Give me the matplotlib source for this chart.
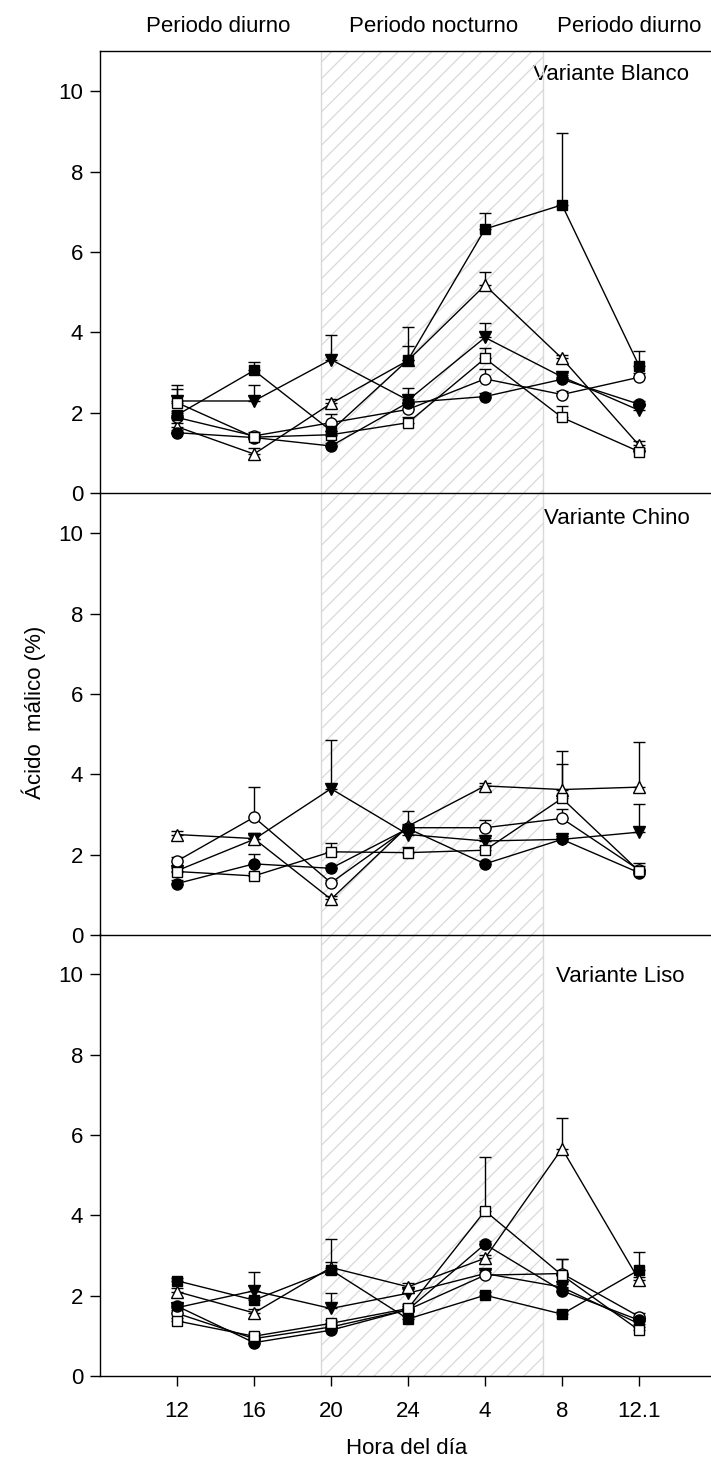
"""Malic acid over a day/night cycle, three variants stacked (SigmaPlot-style look)."""
import matplotlib
matplotlib.use("Agg")
import matplotlib.pyplot as plt
import numpy as np

plt.rcParams["font.family"] = ["Liberation Sans", "DejaVu Sans"]
plt.rcParams["hatch.linewidth"] = 0.9

HOURS = ["12", "16", "20", "24", "4", "8", "12.1"]
NIGHT = (2.875, 5.75)  # 19:30 -> 07:00, in tick units (4 h per tick)
PERIODS = ["Periodo diurno", "Periodo nocturno", "Periodo diurno"]

# --------------------------------------------------------------------------- #
# data: mean and upper error per series                                       #
# --------------------------------------------------------------------------- #
# Variante Blanco
blanco_ftri = [2.29, 2.29, 3.32, 2.31, 3.87, 2.89, 2.06]
blanco_ftri_err = [0.31, 0.41, 0.62, 0.31, 0.37, 0.10, 0.10]
blanco_otri = [1.65, 0.97, 2.23, 3.30, 5.17, 3.35, 1.19]
blanco_otri_err = [0.10, 0.15, 0.10, 0.36, 0.33, 0.08, 0.10]
blanco_ocirc = [1.88, 1.42, 1.75, 2.08, 2.84, 2.45, 2.88]
blanco_ocirc_err = [0.10, 0.10, 0.22, 0.15, 0.24, 0.10, 0.10]
blanco_fcirc = [1.50, 1.38, 1.17, 2.25, 2.40, 2.83, 2.21]
blanco_fcirc_err = [0.08, 0.08, 0.08, 0.10, 0.08, 0.10, 0.08]
blanco_osq = [2.25, 1.39, 1.45, 1.75, 3.35, 1.88, 1.03]
blanco_osq_err = [0.43, 0.08, 0.10, 0.14, 0.25, 0.29, 0.08]
blanco_fsq = [1.94, 3.05, 1.55, 3.31, 6.57, 7.17, 3.17]
blanco_fsq_err = [0.10, 0.21, 0.15, 0.82, 0.41, 1.78, 0.37]

# Variante Chino (no filled-square series)
chino_ftri = [1.60, 2.38, 3.64, 2.50, 2.34, 2.38, 2.56]
chino_ftri_err = [0.10, 0.16, 1.21, 0.10, 0.08, 0.08, 0.69]
chino_otri = [2.50, 2.40, 0.89, 2.71, 3.71, 3.62, 3.68]
chino_otri_err = [0.08, 0.08, 0.08, 0.37, 0.08, 0.96, 1.12]
chino_ocirc = [1.84, 2.93, 1.30, 2.67, 2.67, 2.90, 1.62]
chino_ocirc_err = [0.10, 0.75, 0.08, 0.10, 0.18, 0.23, 0.10]
chino_fcirc = [1.28, 1.77, 1.66, 2.65, 1.77, 2.38, 1.55]
chino_fcirc_err = [0.08, 0.25, 0.08, 0.10, 0.08, 0.08, 0.08]
chino_osq = [1.58, 1.47, 2.07, 2.05, 2.11, 3.40, 1.59]
chino_osq_err = [0.08, 0.08, 0.23, 0.14, 0.08, 0.86, 0.20]

# Variante Liso
liso_ftri = [1.70, 2.12, 1.68, 2.06, 2.55, 2.21, 1.30]
liso_ftri_err = [0.08, 0.47, 0.39, 0.10, 0.08, 0.08, 0.08]
liso_otri = [2.10, 1.57, 2.70, 2.22, 2.93, 5.66, 2.39]
liso_otri_err = [0.08, 0.10, 0.14, 0.09, 0.08, 0.77, 0.08]
liso_ocirc = [1.56, 0.93, 1.22, 1.65, 2.51, 2.55, 1.48]
liso_ocirc_err = [0.08, 0.08, 0.08, 0.08, 0.08, 0.35, 0.10]
liso_fcirc = [1.74, 0.83, 1.14, 1.65, 3.28, 2.12, 1.39]
liso_fcirc_err = [0.08, 0.08, 0.08, 0.08, 0.08, 0.08, 0.08]
liso_osq = [1.37, 0.99, 1.31, 1.68, 4.11, 2.51, 1.14]
liso_osq_err = [0.08, 0.08, 0.08, 0.10, 1.35, 0.39, 0.08]
liso_fsq = [2.37, 1.89, 2.64, 1.42, 2.01, 1.54, 2.64]
liso_fsq_err = [0.08, 0.08, 0.77, 0.08, 0.08, 0.08, 0.45]

# marker, face colour, marker size
_STYLE = {
    "ftri": ("v", "black", 9),
    "otri": ("^", "white", 9),
    "ocirc": ("o", "white", 8),
    "fcirc": ("o", "black", 8),
    "osq": ("s", "white", 7.8),
    "fsq": ("s", "black", 7.8),
}

PANELS = [
    ("Variante Blanco", (611, 75), {
        "ftri": (blanco_ftri, blanco_ftri_err), "otri": (blanco_otri, blanco_otri_err),
        "ocirc": (blanco_ocirc, blanco_ocirc_err), "fcirc": (blanco_fcirc, blanco_fcirc_err),
        "osq": (blanco_osq, blanco_osq_err), "fsq": (blanco_fsq, blanco_fsq_err)}),
    ("Variante Chino", (617, 518), {
        "ftri": (chino_ftri, chino_ftri_err), "otri": (chino_otri, chino_otri_err),
        "ocirc": (chino_ocirc, chino_ocirc_err), "fcirc": (chino_fcirc, chino_fcirc_err),
        "osq": (chino_osq, chino_osq_err)}),
    ("Variante Liso", (620, 977), {
        "ftri": (liso_ftri, liso_ftri_err), "otri": (liso_otri, liso_otri_err),
        "ocirc": (liso_ocirc, liso_ocirc_err), "fcirc": (liso_fcirc, liso_fcirc_err),
        "osq": (liso_osq, liso_osq_err), "fsq": (liso_fsq, liso_fsq_err)}),
]

W, H = 711, 1463
FS = 16

fig = plt.figure(figsize=(W / 100, H / 100), dpi=100)
x = np.arange(1, len(HOURS) + 1)
tops = [51, 493, 934]
ph = 442

for k, (name, (tx, ty), series) in enumerate(PANELS):
    top = tops[k]
    ax = fig.add_axes([100 / W, (H - top - ph) / H, 616 / W, ph / H])
    ax.set_zorder(10 - k)  # upper panel's bottom spine stays above the next panel's hatch
    ax.patch.set_visible(False)
    ax.set_xlim(0, 8)
    ax.set_ylim(0, 11)

    # night band: hatched, top/bottom edges pushed outside the view so only sides show
    ax.fill_between(list(NIGHT), -1, 12, facecolor="none", edgecolor="#d9d9d9",
                    hatch="//", lw=1.0, zorder=0)

    for key, (vals, err) in series.items():
        ax.errorbar(x, vals, yerr=[np.zeros(len(err)), err], fmt="none", ecolor="black",
                    elinewidth=1.0, capsize=4.3, capthick=1.0, zorder=2)
    for i, (key, (vals, err)) in enumerate(series.items()):
        m, face, ms = _STYLE[key]
        ax.plot(x, vals, color="black", lw=1.0, marker=m, ms=ms, mfc=face,
                mec="black", mew=1.0, zorder=3 + i)

    ax.set_yticks(range(0, 11, 2))
    ax.tick_params(axis="y", direction="out", length=7, width=1, labelsize=FS, pad=5)
    ax.spines["right"].set_visible(False)
    if k > 0:
        ax.spines["top"].set_visible(False)
    if k < 2:
        ax.tick_params(axis="x", bottom=False, labelbottom=False)
    else:
        ax.set_xticks(x)
        ax.set_xticklabels(HOURS)
        ax.tick_params(axis="x", direction="out", length=7, width=1, labelsize=FS, pad=11)
    for s in ax.spines.values():
        s.set_linewidth(1.0)
        s.set_zorder(20)

    fig.text(tx / W, 1 - ty / H, name, ha="center", va="center", fontsize=FS)

for label, cx in zip(PERIODS, [218, 434, 629]):
    fig.text(cx / W, 1 - 27 / H, label, ha="center", va="center", fontsize=FS)

fig.text(34 / W, 1 - 712 / H, "Ácido  málico (%)", rotation=90, ha="center", va="center", fontsize=FS)
fig.text(407 / W, 1 - 1449 / H, "Hora del día", ha="center", va="center", fontsize=FS)

fig.savefig("out.png", dpi=100)
